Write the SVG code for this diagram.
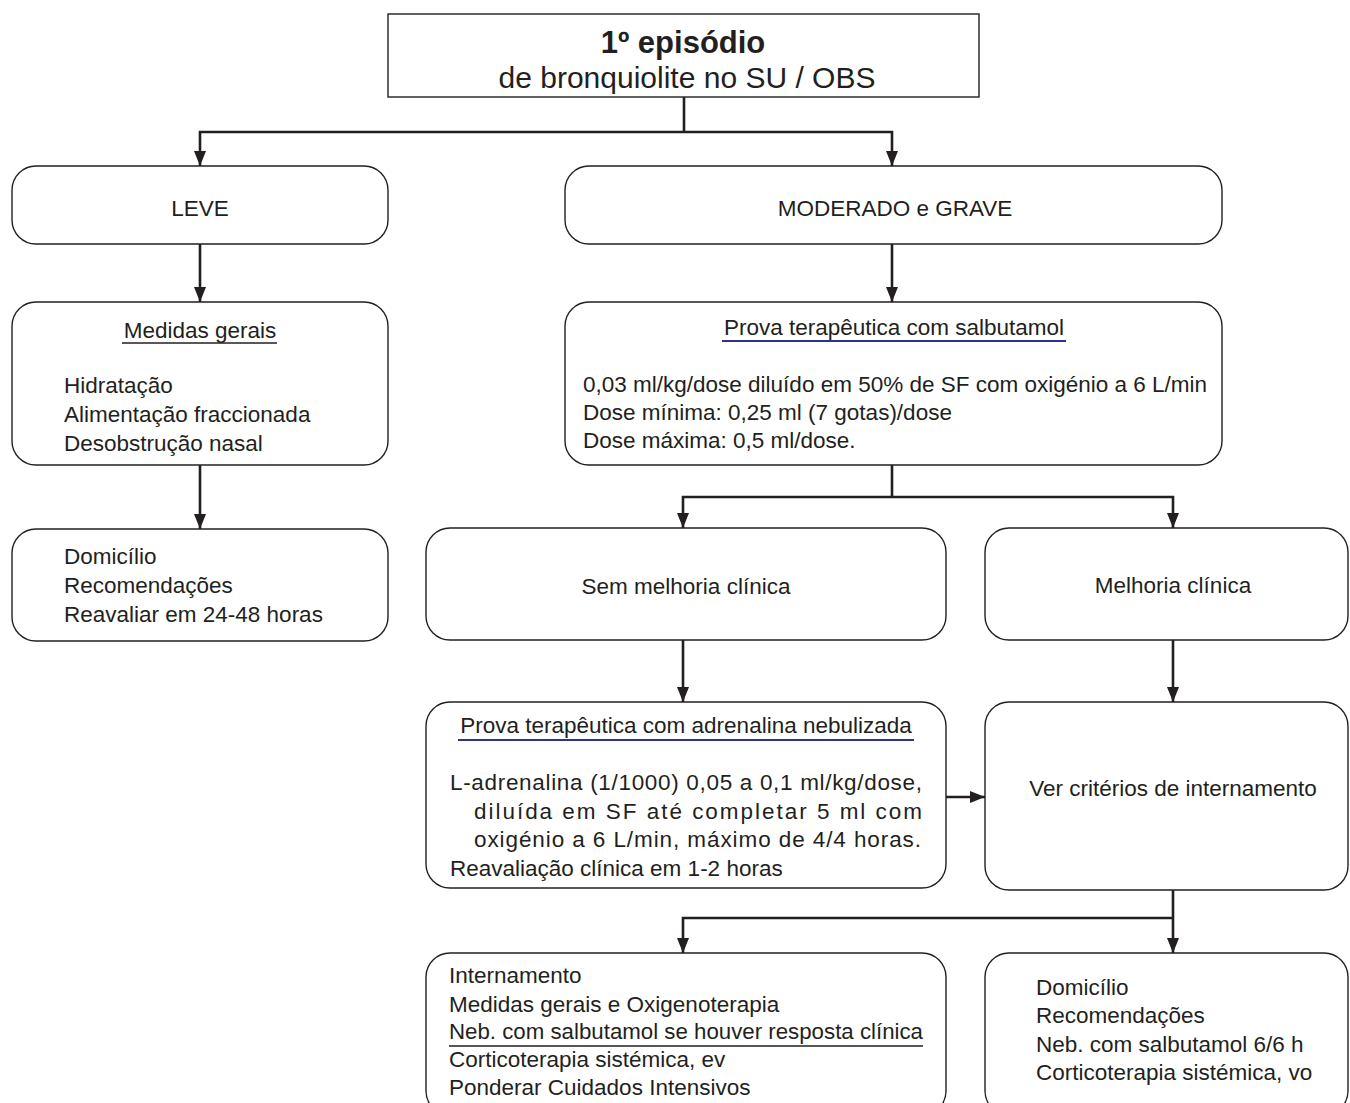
<svg xmlns="http://www.w3.org/2000/svg" width="1350" height="1103" viewBox="0 0 1350 1103">
<style>
.box{fill:#fff;stroke:#231f20;stroke-width:1.4}
.t{font-family:"Liberation Sans",Arial,sans-serif;font-size:22.5px;fill:#231f20}
.c{text-anchor:middle}
.b{font-weight:bold;font-size:31px}
.big{font-size:30px}
.conn path{fill:none;stroke:#231f20;stroke-width:2.6}
.conn path.a{marker-end:url(#arr)}
.ul{stroke:#231f20;stroke-width:1.6}
.ulb{stroke:#2e3192;stroke-width:2.2}
</style>
<defs>
<marker id="arr" markerUnits="userSpaceOnUse" markerWidth="16" markerHeight="13" refX="15" refY="6" orient="auto">
<path d="M0,0 L15,6 L0,12 z" fill="#231f20"/>
</marker>
</defs>
<rect width="1350" height="1103" fill="#fff"/>

<g class="conn" id="connectors">
<path d="M684,97 V132"/>
<path class="a" d="M684,132 H200 V166"/>
<path class="a" d="M684,132 H892 V166"/>
<path class="a" d="M200,244 V302"/>
<path class="a" d="M892,244 V302"/>
<path class="a" d="M200,465 V529"/>
<path d="M892,465 V497"/>
<path class="a" d="M892,497 H683 V528"/>
<path class="a" d="M892,497 H1173 V528"/>
<path class="a" d="M683,640 V702"/>
<path class="a" d="M1173,640 V702"/>
<path class="a" d="M946,797 H985"/>
<path d="M1173,890 V918"/>
<path class="a" d="M1173,918 H683 V953"/>
<path class="a" d="M1173,918 V953"/>
</g>

<g id="n-top">
<rect x="388" y="14" width="591" height="83" fill="#fff" stroke="#231f20" stroke-width="1.4"/>
<text class="t c b" x="683" y="53">1º episódio</text>
<text class="t c big" x="687" y="88">de bronquiolite no SU / OBS</text>
</g>

<g id="n-leve">
<rect class="box" x="12" y="166" width="376" height="78" rx="24"/>
<text class="t c" x="200" y="216">LEVE</text>
</g>

<g id="n-moderado">
<rect class="box" x="565" y="166" width="657" height="78" rx="24"/>
<text class="t c" x="895" y="216">MODERADO e GRAVE</text>
</g>

<g id="n-medidas">
<rect class="box" x="12" y="302" width="376" height="163" rx="24"/>
<text class="t c" x="200" y="338">Medidas gerais</text>
<line class="ul" x1="122" y1="343" x2="277" y2="343"/>
<text class="t" x="64" y="393">Hidratação</text>
<text class="t" x="64" y="422">Alimentação fraccionada</text>
<text class="t" x="64" y="451">Desobstrução nasal</text>
</g>

<g id="n-domicilio1">
<rect class="box" x="12" y="529" width="376" height="112" rx="24"/>
<text class="t" x="64" y="564">Domicílio</text>
<text class="t" x="64" y="593">Recomendações</text>
<text class="t" x="64" y="622">Reavaliar em 24-48 horas</text>
</g>

<g id="n-salbutamol">
<rect class="box" x="565" y="302" width="657" height="163" rx="24"/>
<text class="t c" x="894" y="335">Prova terapêutica com salbutamol</text>
<line class="ulb" x1="722" y1="341" x2="1066" y2="341"/>
<text class="t" x="583" y="392">0,03 ml/kg/dose diluído em 50% de SF com oxigénio a 6 L/min</text>
<text class="t" x="583" y="420">Dose mínima: 0,25 ml (7 gotas)/dose</text>
<text class="t" x="583" y="448">Dose máxima: 0,5 ml/dose.</text>
</g>

<g id="n-sem-melhoria">
<rect class="box" x="426" y="528" width="520" height="112" rx="24"/>
<text class="t c" x="686" y="594">Sem melhoria clínica</text>
</g>

<g id="n-melhoria">
<rect class="box" x="985" y="528" width="363" height="112" rx="24"/>
<text class="t c" x="1173" y="593">Melhoria clínica</text>
</g>

<g id="n-adrenalina">
<rect class="box" x="426" y="702" width="520" height="186" rx="24"/>
<text class="t c" x="686" y="733">Prova terapêutica com adrenalina nebulizada</text>
<line class="ulb" x1="458" y1="740" x2="914" y2="740"/>
<text class="t" x="450" y="790" textLength="472" lengthAdjust="spacing">L-adrenalina (1/1000) 0,05 a 0,1 ml/kg/dose,</text>
<text class="t" x="474" y="819" textLength="448" lengthAdjust="spacing">diluída em SF até completar 5 ml com</text>
<text class="t" x="474" y="847" textLength="447" lengthAdjust="spacing">oxigénio a 6 L/min, máximo de 4/4 horas.</text>
<text class="t" x="450" y="876">Reavaliação clínica em 1-2 horas</text>
</g>

<g id="n-criterios">
<rect class="box" x="985" y="702" width="363" height="188" rx="24"/>
<text class="t c" x="1173" y="796">Ver critérios de internamento</text>
</g>

<g id="n-internamento">
<rect class="box" x="426" y="953" width="520" height="162" rx="24"/>
<text class="t" x="449" y="983">Internamento</text>
<text class="t" x="449" y="1012">Medidas gerais e Oxigenoterapia</text>
<text class="t" x="449" y="1039" textLength="474" lengthAdjust="spacingAndGlyphs">Neb. com salbutamol se houver resposta clínica</text>
<line class="ul" x1="449" y1="1046" x2="923" y2="1046" stroke-width="2.2"/>
<text class="t" x="449" y="1067">Corticoterapia sistémica, ev</text>
<text class="t" x="449" y="1095">Ponderar Cuidados Intensivos</text>
</g>

<g id="n-domicilio2">
<rect class="box" x="985" y="953" width="363" height="162" rx="24"/>
<text class="t" x="1036" y="995">Domicílio</text>
<text class="t" x="1036" y="1023">Recomendações</text>
<text class="t" x="1036" y="1052">Neb. com salbutamol 6/6 h</text>
<text class="t" x="1036" y="1080">Corticoterapia sistémica, vo</text>
</g>
</svg>
